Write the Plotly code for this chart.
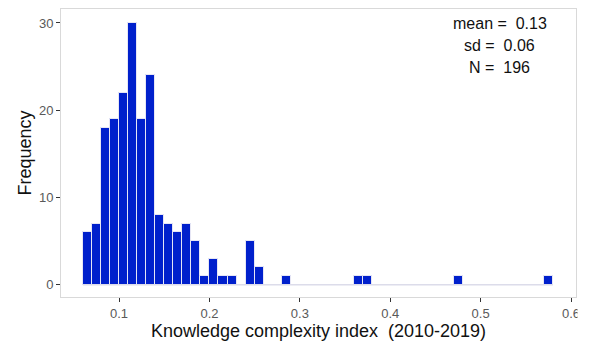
import plotly.graph_objects as go

# Histogram of the knowledge complexity index, bin width 0.01
bin_starts = [0.06, 0.07, 0.08, 0.09, 0.10, 0.11, 0.12, 0.13, 0.14, 0.15,
              0.16, 0.17, 0.18, 0.19, 0.20, 0.21, 0.22, 0.23, 0.24, 0.25,
              0.26, 0.27, 0.28, 0.29, 0.30, 0.31, 0.32, 0.33, 0.34, 0.35,
              0.36, 0.37, 0.38, 0.39, 0.40, 0.41, 0.42, 0.43, 0.44, 0.45,
              0.46, 0.47, 0.48, 0.49, 0.50, 0.51, 0.52, 0.53, 0.54, 0.55,
              0.56, 0.57]
counts = [6, 7, 18, 19, 22, 30, 19, 24, 8, 7,
          6, 7, 5, 1, 3, 1, 1, 0, 5, 2,
          0, 0, 1, 0, 0, 0, 0, 0, 0, 0,
          1, 1, 0, 0, 0, 0, 0, 0, 0, 0,
          0, 1, 0, 0, 0, 0, 0, 0, 0, 0,
          0, 1]
binwidth = 0.01

x_ticks = [0.1, 0.2, 0.3, 0.4, 0.5, 0.6]
y_ticks = [0, 10, 20, 30]
stats_text = ["mean =\u00a0 0.13", "sd =\u00a0 0.06", "N =\u00a0 196"]

centers = [b + binwidth / 2 for b in bin_starts]

fig = go.Figure()

# empty bins show as a faint baseline
fig.add_trace(go.Scatter(
    x=[bin_starts[0], bin_starts[-1] + binwidth], y=[0, 0],
    mode="lines", line=dict(color="#dcdcea", width=1.5),
    hoverinfo="skip", showlegend=False,
))

fig.add_trace(go.Bar(
    x=centers, y=counts, width=binwidth,
    marker=dict(color="#0020cc", line=dict(color="#e6e6f5", width=1)),
    showlegend=False,
))

font_family = "Liberation Sans, Arial, sans-serif"

fig.update_layout(
    width=591, height=344,
    margin=dict(l=61, r=15, t=9, b=47),
    paper_bgcolor="white", plot_bgcolor="white",
    font=dict(family=font_family),
    bargap=0,
    xaxis=dict(
        range=[0.0358, 0.6055],
        tickvals=x_ticks,
        ticktext=[f"{v:.1f}" for v in x_ticks],
        ticks="outside", ticklen=4, tickcolor="#333333", tickwidth=1,
        tickfont=dict(size=13, color="#595959"),
        showgrid=False, zeroline=False,
        showline=True, mirror=True, linecolor="#d9d9d9", linewidth=1,
        title=dict(text="Knowledge complexity index \u00a0(2010-2019)",
                   font=dict(size=18, color="#111111"), standoff=2),
    ),
    yaxis=dict(
        range=[-1.4, 31.6],
        tickvals=y_ticks,
        ticks="outside", ticklen=4, tickcolor="#333333", tickwidth=1,
        tickfont=dict(size=13, color="#595959"),
        showgrid=False, zeroline=False,
        showline=True, mirror=True, linecolor="#d9d9d9", linewidth=1,
        title=dict(text="Frequency", font=dict(size=18, color="#111111"),
                   standoff=2),
    ),
    # the figure is trimmed just past the right edge of the panel
    shapes=[dict(type="rect", xref="paper", yref="paper",
                 x0=1.003, x1=1.2, y0=-0.3, y1=1.1,
                 fillcolor="white", line=dict(width=0), layer="above")],
)

for i, line in enumerate(stats_text):
    fig.add_annotation(
        x=0.852, y=0.948 - i * 0.0747, xref="paper", yref="paper",
        text=line, showarrow=False, xanchor="center", yanchor="middle",
        font=dict(size=16, color="#111111", family=font_family),
    )

fig.write_html("out.html")
